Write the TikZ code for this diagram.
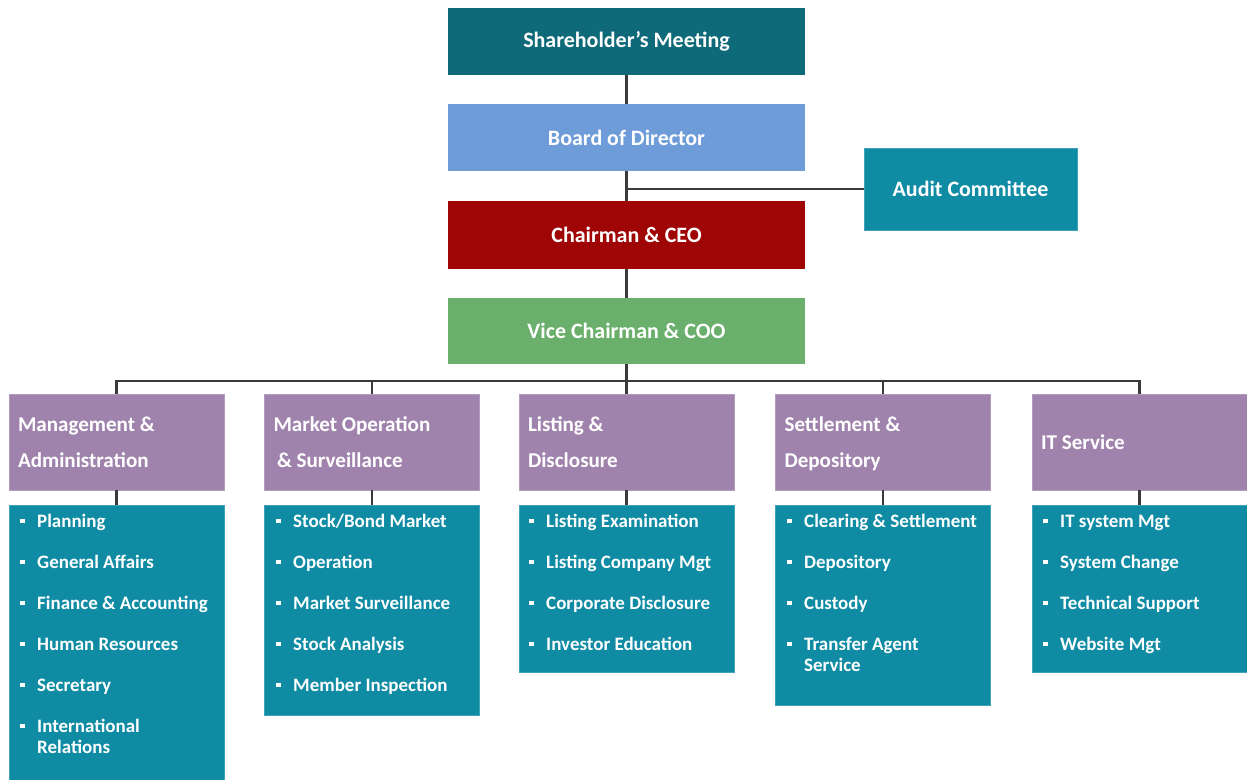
\documentclass[tikz,border=0pt]{standalone}
\usepackage{fontspec}
\setmainfont{Carlito}

\definecolor{meetteal}{RGB}{14,106,120}
\definecolor{boardblue}{RGB}{110,156,216}
\definecolor{chairred}{RGB}{160,5,5}
\definecolor{vicegreen}{RGB}{106,176,108}
\definecolor{unitteal}{RGB}{15,139,164}
\definecolor{deptpurple}{RGB}{159,131,172}
\definecolor{linkgrey}{RGB}{58,58,58}

% square bullet followed by a (possibly two-line) entry
\newcommand{\itm}[1]{\rule[2pt]{2.8pt}{2.8pt}\hspace{6.8pt}\begin{tabular}[t]{@{}l@{}}#1\end{tabular}}

\tikzset{
  box/.style={rectangle, inner sep=0pt, outer sep=0pt, text=white,
    font=\fontsize{12.5}{14}\selectfont\bfseries},
  topbox/.style={box, minimum width=7.14cm, minimum height=1.34cm},
  dept/.style={box, fill=deptpurple, draw=deptpurple!80!white, line width=0.5pt,
    minimum width=4.3cm, minimum height=1.92cm, inner xsep=0.18cm,
    text width=3.94cm, align=left, font=\fontsize{12}{20.4}\selectfont\bfseries,
    execute at begin node={\spaceskip=0pt\relax\strut}, execute at end node=\strut},
  unitbox/.style={box, fill=unitteal, draw=unitteal!80!white, line width=0.5pt,
    minimum width=4.3cm},
  item/.style={anchor=base west, inner sep=0pt, text=white,
    font=\fontsize{10.8}{12.5}\selectfont\bfseries},
  link/.style={draw=linkgrey, line width=1.4pt},
}

\begin{document}
\begin{tikzpicture}[x=0.02cm, y=-0.02cm]
  \useasboundingbox (0,0) rectangle (1247,780);

  %% top of the chart
  \node[topbox, fill=meetteal] (share) at (626.5,41.5) {Shareholder’s Meeting};
  \node[topbox, fill=boardblue] (board) at (626.5,137.5) {Board of Director};
  \node[topbox, fill=chairred, minimum height=1.36cm] (chair) at (626.5,235) {Chairman \& CEO};
  \node[topbox, fill=vicegreen, minimum height=1.32cm] (vice) at (626.5,331) {Vice Chairman \& COO};
  \node[box, fill=unitteal, draw=unitteal!80!white, line width=0.5pt,
    minimum width=4.26cm, minimum height=1.64cm] (audit) at (970.5,189) {Audit Committee};

  \draw[link] (share) -- (board);
  \draw[link] (board) -- (chair);
  \draw[link] (audit.west) -- (audit.west -| board.south);
  \draw[link] (chair) -- (vice);

  %% departments
  \node[dept] (ma) at (116.5,442) {Management \&\\Administration};
  \node[dept] (mo) at (372,442) {Market Operation\\\,\& Surveillance};
  \node[dept] (ld) at (626.5,442) {Listing \&\\Disclosure};
  \node[dept] (sd) at (883,442) {Settlement \&\\Depository};
  \node[dept] (it) at (1139.5,442) {IT Service};

  \coordinate (bus) at (626.5,381);
  \draw[link] (vice.south) -- (bus);
  \draw[link] (ma.north) |- (bus) -| (it.north);
  \draw[link] (mo.north) -- (mo.north |- bus);
  \draw[link] (ld.north) -- (ld.north |- bus);
  \draw[link] (sd.north) -- (sd.north |- bus);

  %% sections under each department
  \node[unitbox, minimum height=5.5cm] (mal) at (116.5,642.5) {};
  \node[unitbox, minimum height=4.2cm] (mol) at (372,610) {};
  \node[unitbox, minimum height=3.34cm] (ldl) at (626.5,588.5) {};
  \node[unitbox, minimum height=4.0cm] (sdl) at (883,605) {};
  \node[unitbox, minimum height=3.34cm] (itl) at (1139.5,588.5) {};

  \draw[link] (ma) -- (mal);
  \draw[link] (mo) -- (mol);
  \draw[link] (ld) -- (ldl);
  \draw[link] (sd) -- (sdl);
  \draw[link] (it) -- (itl);

  \node[item] (ma1) at (20,527) {\itm{Planning}};
  \node[item] (ma2) at (20,568) {\itm{General Affairs}};
  \node[item] (ma3) at (20,609) {\itm{Finance \& Accounting}};
  \node[item] (ma4) at (20,650) {\itm{Human Resources}};
  \node[item] (ma5) at (20,691) {\itm{Secretary}};
  \node[item] (ma6) at (20,732) {\itm{International\\Relations}};

  \node[item] (mo1) at (276,527) {\itm{Stock/Bond Market}};
  \node[item] (mo2) at (276,568) {\itm{Operation}};
  \node[item] (mo3) at (276,609) {\itm{Market Surveillance}};
  \node[item] (mo4) at (276,650) {\itm{Stock Analysis}};
  \node[item] (mo5) at (276,691) {\itm{Member Inspection}};

  \node[item] (ld1) at (529,527) {\itm{Listing Examination}};
  \node[item] (ld2) at (529,568) {\itm{Listing Company Mgt}};
  \node[item] (ld3) at (529,609) {\itm{Corporate Disclosure}};
  \node[item] (ld4) at (529,650) {\itm{Investor Education}};

  \node[item] (sd1) at (787,527) {\itm{Clearing \& Settlement}};
  \node[item] (sd2) at (787,568) {\itm{Depository}};
  \node[item] (sd3) at (787,609) {\itm{Custody}};
  \node[item] (sd4) at (787,650) {\itm{Transfer Agent\\Service}};

  \node[item] (it1) at (1043,527) {\itm{IT system Mgt}};
  \node[item] (it2) at (1043,568) {\itm{System Change}};
  \node[item] (it3) at (1043,609) {\itm{Technical Support}};
  \node[item] (it4) at (1043,650) {\itm{Website Mgt}};
\end{tikzpicture}
\end{document}
